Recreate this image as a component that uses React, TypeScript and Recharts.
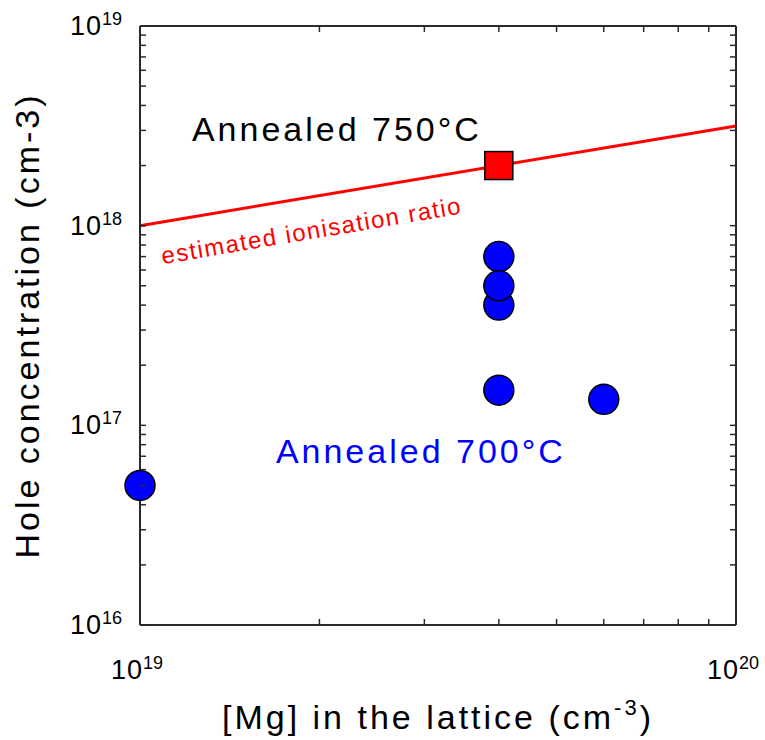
import {
  Label,
  ReferenceDot,
  ReferenceLine,
  Scatter,
  ScatterChart,
  XAxis,
  YAxis,
} from "recharts";

const FONT = "Arial, 'Liberation Sans', Helvetica, sans-serif";
const AXIS = "#2a2a2a";

// [Mg] in the lattice (cm^-3) vs hole concentration (cm^-3)
const blueMg = [1e19, 4e19, 4e19, 4e19, 4e19, 6e19];
const blueHole = [5e16, 7e17, 4e17, 5e17, 1.5e17, 1.35e17];

const redMg = [4e19];
const redHole = [2e18];

// estimated ionisation ratio line (end points)
const ratioMg = [1e19, 1e20];
const ratioHole = [1e18, 3.16e18];

const xDecades = [19, 20];
const yDecades = [16, 17, 18, 19];

const logTicks = (decades: number[]) => {
  const out: number[] = [];
  decades.forEach((d, i) => {
    if (i === decades.length - 1) {
      out.push(Math.pow(10, d));
      return;
    }
    for (let m = 1; m <= 9; m++) out.push(m * Math.pow(10, d));
  });
  return out;
};
const xTicks = logTicks(xDecades);
const yTicks = logTicks(yDecades);

const blueData = blueMg.map((x, i) => ({ x, y: blueHole[i] }));
const redData = redMg.map((x, i) => ({ x, y: redHole[i] }));

const notes = [
  { x: 2.14e19, y: 2.66e18, text: "Annealed 750°C", color: "#000000" },
  { x: 2.96e19, y: 6.5e16, text: "Annealed 700°C", color: "#0000ff" },
];
const ratioNote = { x: 1.95e19, y: 8.6e17, text: "estimated ionisation ratio" };

const exponent = (v: number) => {
  const e = Math.log10(v);
  return Math.abs(e - Math.round(e)) < 1e-6 ? Math.round(e) : null;
};

const BottomTick = ({ x, y, payload }: any) => {
  const e = exponent(payload.value);
  return (
    <g>
      <line x1={x} x2={x} y1={y} y2={y - 6} stroke={AXIS} strokeWidth={1.5} />
      {e !== null && (
        <text x={x - 3} y={y + 54} textAnchor="middle" fontSize={27} fontFamily={FONT} fill="#000">
          <tspan letterSpacing={1}>10</tspan>
          <tspan dy={-10} fontSize={18}>{e}</tspan>
        </text>
      )}
    </g>
  );
};

const TopTick = ({ x, y }: any) => (
  <line x1={x} x2={x} y1={y} y2={y + 6} stroke={AXIS} strokeWidth={1.5} />
);

const LeftTick = ({ x, y, payload }: any) => {
  const e = exponent(payload.value);
  return (
    <g>
      <line x1={x} x2={x + 6} y1={y} y2={y} stroke={AXIS} strokeWidth={1.5} />
      {e !== null && (
        <text x={x - 18} y={y + 9} textAnchor="end" fontSize={27} fontFamily={FONT} fill="#000">
          <tspan letterSpacing={1}>10</tspan>
          <tspan dy={-10} fontSize={18}>{e}</tspan>
        </text>
      )}
    </g>
  );
};

const RightTick = ({ x, y }: any) => (
  <line x1={x} x2={x - 6} y1={y} y2={y} stroke={AXIS} strokeWidth={1.5} />
);

const YTitle = ({ viewBox }: any) => {
  const cx = viewBox.x + 39;
  const cy = viewBox.y + viewBox.height / 2;
  return (
    <text
      x={cx}
      y={cy}
      transform={`rotate(-90 ${cx} ${cy})`}
      textAnchor="middle"
      fontSize={34}
      letterSpacing={3}
      fontFamily={FONT}
      fill="#000"
    >
      Hole concentration (cm-3)
    </text>
  );
};

const XTitle = ({ viewBox }: any) => (
  <text
    x={viewBox.x + viewBox.width / 2}
    y={viewBox.y + 104}
    textAnchor="middle"
    fontSize={34}
    letterSpacing={3}
    fontFamily={FONT}
    fill="#000"
  >
    [Mg] in the lattice (cm
    <tspan dy={-14} fontSize={22}>-3</tspan>
    <tspan dy={14}>)</tspan>
  </text>
);

const BlueDot = (p: any) => (
  <circle cx={p.cx} cy={p.cy} r={15} fill="#0000ff" stroke="#000" strokeWidth={1.5} />
);

const RedSquare = (p: any) => (
  <rect x={p.cx - 14} y={p.cy - 14} width={28} height={28} fill="#ff0000" stroke="#000" strokeWidth={1.5} />
);

const Nothing = () => <g />;

export default function App() {
  return (
    <div style={{ position: "absolute", left: 0, top: 0, background: "#fff" }}>
      <ScatterChart width={765} height={740} margin={{ top: 25, right: 28, bottom: 0, left: 0 }}>
        <XAxis
          xAxisId={0}
          dataKey="x"
          type="number"
          scale="log"
          domain={[1e19, 1e20]}
          ticks={xTicks}
          interval={0}
          tick={<BottomTick />}
          tickSize={0}
          tickMargin={0}
          height={115}
          axisLine={{ stroke: AXIS, strokeWidth: 2 }}
        >
          <Label content={<XTitle />} />
        </XAxis>
        <XAxis
          xAxisId="top"
          orientation="top"
          dataKey="x"
          type="number"
          scale="log"
          domain={[1e19, 1e20]}
          ticks={xTicks}
          interval={0}
          tick={<TopTick />}
          tickSize={0}
          tickMargin={0}
          height={1}
          axisLine={{ stroke: AXIS, strokeWidth: 2 }}
        />
        <YAxis
          yAxisId={0}
          dataKey="y"
          type="number"
          scale="log"
          domain={[1e16, 1e19]}
          ticks={yTicks}
          interval={0}
          tick={<LeftTick />}
          tickSize={0}
          tickMargin={0}
          width={140}
          axisLine={{ stroke: AXIS, strokeWidth: 2 }}
        >
          <Label content={<YTitle />} />
        </YAxis>
        <YAxis
          yAxisId="right"
          orientation="right"
          dataKey="y"
          type="number"
          scale="log"
          domain={[1e16, 1e19]}
          ticks={yTicks}
          interval={0}
          tick={<RightTick />}
          tickSize={0}
          tickMargin={0}
          width={1}
          axisLine={{ stroke: AXIS, strokeWidth: 2 }}
        />
        <ReferenceLine
          segment={[
            { x: ratioMg[0], y: ratioHole[0] },
            { x: ratioMg[1], y: ratioHole[1] },
          ]}
          stroke="#ff0000"
          strokeWidth={3}
        />
        {notes.map((n) => (
          <ReferenceDot
            key={n.text}
            x={n.x}
            y={n.y}
            r={0}
            shape={(p: any) => (
              <text
                x={p.cx}
                y={p.cy}
                textAnchor="middle"
                fontSize={34}
                letterSpacing={3}
                fontFamily={FONT}
                fill={n.color}
              >
                {n.text}
              </text>
            )}
          />
        ))}
        <ReferenceDot
          x={ratioNote.x}
          y={ratioNote.y}
          r={0}
          shape={(p: any) => (
            <text
              x={p.cx}
              y={p.cy}
              transform={`rotate(-9.6 ${p.cx} ${p.cy})`}
              textAnchor="middle"
              fontSize={24}
              letterSpacing={1.5}
              fontFamily={FONT}
              fill="#ff0000"
            >
              {ratioNote.text}
            </text>
          )}
        />
        {/* keeps the mirrored top/right frame axes in use */}
        <Scatter
          data={redData}
          xAxisId="top"
          yAxisId="right"
          shape={<Nothing />}
          isAnimationActive={false}
        />
        <Scatter data={blueData} shape={<BlueDot />} isAnimationActive={false} />
        <Scatter data={redData} shape={<RedSquare />} isAnimationActive={false} />
      </ScatterChart>
    </div>
  );
}
